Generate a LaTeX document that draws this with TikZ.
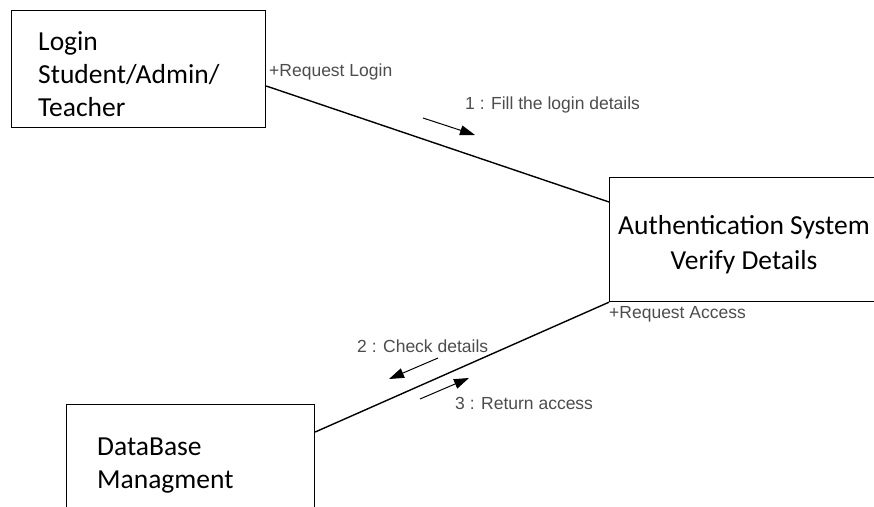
\documentclass[tikz,border=0pt]{standalone}
\usepackage{fontspec}
\setmainfont{Carlito}
\newfontfamily\labelfont{Liberation Sans}
\usetikzlibrary{arrows.meta,calc}

\begin{document}
\begin{tikzpicture}[x=1pt,y=-1pt,
  classbox/.style={draw=black, line width=1.2pt, rectangle, inner sep=0pt, anchor=north west},
  boxtext/.style={font=\fontsize{27.5}{33}\selectfont, inner sep=0pt, align=left},
  rolelabel/.style={font=\labelfont\fontsize{17.5}{20}\selectfont, text=black!70, inner sep=0pt},
  link/.style={draw=black, line width=1.4pt},
  msgarrow/.style={draw=black, line width=1pt, -{Triangle[length=15pt,width=10pt]}}]

  \useasboundingbox (0,0) rectangle (874,506);

  % classifier boxes
  \node[classbox, minimum width=254, minimum height=117] (login) at (11,10) {};
  \node[classbox, minimum width=280, minimum height=124] (auth) at (609,177) {};
  \node[classbox, minimum width=248, minimum height=110] (db) at (66,404) {};

  % box captions
  \node[boxtext, anchor=north west] (logintxt) at (38,31) {Login\\Student/Admin/\\Teacher};
  \node[boxtext, anchor=north, align=center, font=\fontsize{27.5}{35}\selectfont] (authtxt) at (744,215) {Authentication System\\Verify Details};
  \node[boxtext, anchor=north west] (dbtxt) at (97,438) {DataBase\\Managment};

  % links between the objects
  \draw[link] ([yshift=-76pt]login.north east) -- ([yshift=-25pt]auth.north west);
  \draw[link] ([yshift=-28pt]db.north east) -- (auth.south west);

  % role names at the link ends
  \node[rolelabel, anchor=west] (reqlogin) at (269,72) {+Request Login};
  \node[rolelabel, anchor=west] (reqaccess) at (609,314) {+Request Access};

  % messages
  \node[rolelabel, anchor=west] (m1) at (465,105) {1 : Fill the login details};
  \node[rolelabel, anchor=west] (m2) at (357,346) {2 : Check details};
  \node[rolelabel, anchor=west] (m3) at (455,403) {3 : Return access};

  \coordinate (a1s) at (423,118);
  \coordinate (a1e) at (475,135);
  \coordinate (a2s) at (438,358);
  \coordinate (a2e) at (389,379);
  \coordinate (a3s) at (420,399);
  \coordinate (a3e) at (469,378);
  \draw[msgarrow] (a1s) -- (a1e);
  \draw[msgarrow] (a2s) -- (a2e);
  \draw[msgarrow] (a3s) -- (a3e);
\end{tikzpicture}
\end{document}
